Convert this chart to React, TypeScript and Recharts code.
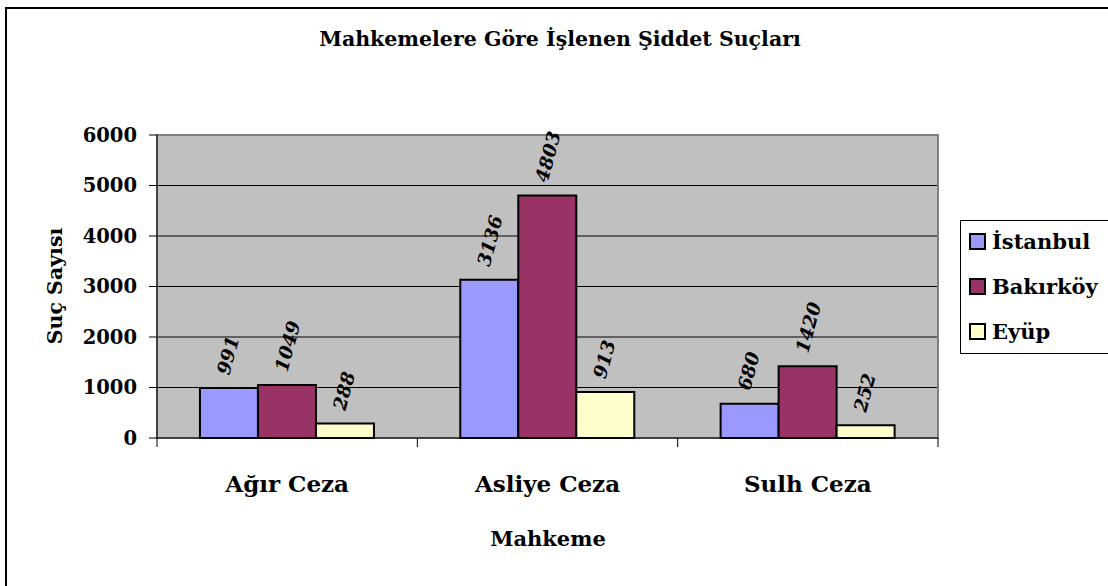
import React from "react"
import { Bar, BarChart, CartesianGrid, LabelList, ReferenceArea, XAxis, YAxis } from "recharts"

const categories = ["Ağır Ceza", "Asliye Ceza", "Sulh Ceza"]
const istanbul = [991, 3136, 680]
const bakirkoy = [1049, 4803, 1420]
const eyup = [288, 913, 252]
const yTicks = [0, 1000, 2000, 3000, 4000, 5000, 6000]

const series = [
  { key: "istanbul", name: "İstanbul", color: "#9999FF" },
  { key: "bakirkoy", name: "Bakırköy", color: "#993366" },
  { key: "eyup", name: "Eyüp", color: "#FFFFCC" },
]

const data = categories.map((c, i) => ({
  name: c,
  istanbul: istanbul[i],
  bakirkoy: bakirkoy[i],
  eyup: eyup[i],
}))

const FONT = "'DejaVu Serif', 'Liberation Serif', serif"
const W = 1108
const H = 586
const PLOT_W = 781

function XTick(props: any) {
  const { x, y, payload, index } = props
  const half = PLOT_W / categories.length / 2
  return (
    <g>
      {index === 0 && <line x1={x - half} x2={x - half} y1={y - 8} y2={y + 1} stroke="#000" strokeWidth={1} />}
      <line x1={x + half} x2={x + half} y1={y - 8} y2={y + 1} stroke="#000" strokeWidth={1} />
      <text x={x} y={y + 46} textAnchor="middle" fontFamily={FONT} fontWeight="bold" fontSize={23} fill="#000">
        {payload.value}
      </text>
    </g>
  )
}

function ValueLabel(props: any) {
  const { x, y, width, value } = props
  const cx = x + width / 2 - 6
  const cy = y - 14
  return (
    <text
      x={cx}
      y={cy}
      transform={`rotate(-75 ${cx} ${cy})`}
      dominantBaseline="central"
      fontFamily={FONT}
      fontWeight="bold"
      fontStyle="italic"
      fontSize={18.5}
      fill="#000"
    >
      {value}
    </text>
  )
}

export default function App() {
  return (
    <div style={{ position: "absolute", left: 0, top: 0, width: W, height: H, background: "#fff", overflow: "hidden", fontFamily: FONT }}>
      <div style={{ position: "absolute", left: 5, top: 7, width: W, height: H, borderLeft: "2px solid #000", borderTop: "2px solid #000" }} />
      <div style={{ position: "absolute", left: 0, width: 1120, top: 27, textAlign: "center", fontWeight: "bold", fontSize: 20.5 }}>
        Mahkemelere Göre İşlenen Şiddet Suçları
      </div>
      <div
        style={{
          position: "absolute",
          left: 55,
          top: 286,
          transform: "translate(-50%, -50%) rotate(-90deg)",
          whiteSpace: "nowrap",
          fontWeight: "bold",
          fontSize: 20.5,
        }}
      >
        Suç Sayısı
      </div>
      <div style={{ position: "absolute", left: 0, width: 1096, top: 526, textAlign: "center", fontWeight: "bold", fontSize: 21 }}>
        Mahkeme
      </div>
      <div
        style={{
          position: "absolute",
          left: 960,
          top: 220,
          width: 200,
          height: 132,
          border: "1px solid #000",
          background: "#fff",
        }}
      >
        {series.map((s, i) => (
          <div key={s.key} style={{ position: "absolute", left: 8, top: 8 + i * 45, display: "flex", alignItems: "center", fontWeight: "bold", fontSize: 21 }}>
            <span style={{ display: "inline-block", width: 13, height: 13, background: s.color, border: "2px solid #000", marginRight: 6 }} />
            {s.name}
          </div>
        ))}
      </div>
      <div style={{ position: "absolute", left: 0, top: 0 }}>
        <BarChart
          width={W}
          height={H}
          data={data}
          margin={{ top: 135, left: 97, right: 170, bottom: 98 }}
          barCategoryGap="16.5%"
          barGap={0}
        >
          <CartesianGrid vertical={false} fill="#C0C0C0" stroke="#000" strokeWidth={1} fillOpacity={1} />
          <XAxis
            dataKey="name"
            height={50}
            axisLine={{ stroke: "#000", strokeWidth: 1 }}
            tickLine={false}
            tick={<XTick />}
            interval={0}
          />
          <YAxis
            width={60}
            domain={[0, 6000]}
            ticks={yTicks}
            interval={0}
            axisLine={{ stroke: "#000", strokeWidth: 1 }}
            tickLine={{ stroke: "#000" }}
            tickSize={8}
            tick={{ fontFamily: FONT, fontWeight: "bold", fontSize: 19.5, fill: "#000", dx: -10 }}
          />
          <ReferenceArea y1={0} y2={6000} fill="none" stroke="#808080" strokeWidth={2} ifOverflow="visible" />
          {series.map((s) => (
            <Bar key={s.key} dataKey={s.key} name={s.name} fill={s.color} stroke="#000" strokeWidth={2} isAnimationActive={false}>
              <LabelList dataKey={s.key} content={<ValueLabel />} />
            </Bar>
          ))}
        </BarChart>
      </div>
    </div>
  )
}
